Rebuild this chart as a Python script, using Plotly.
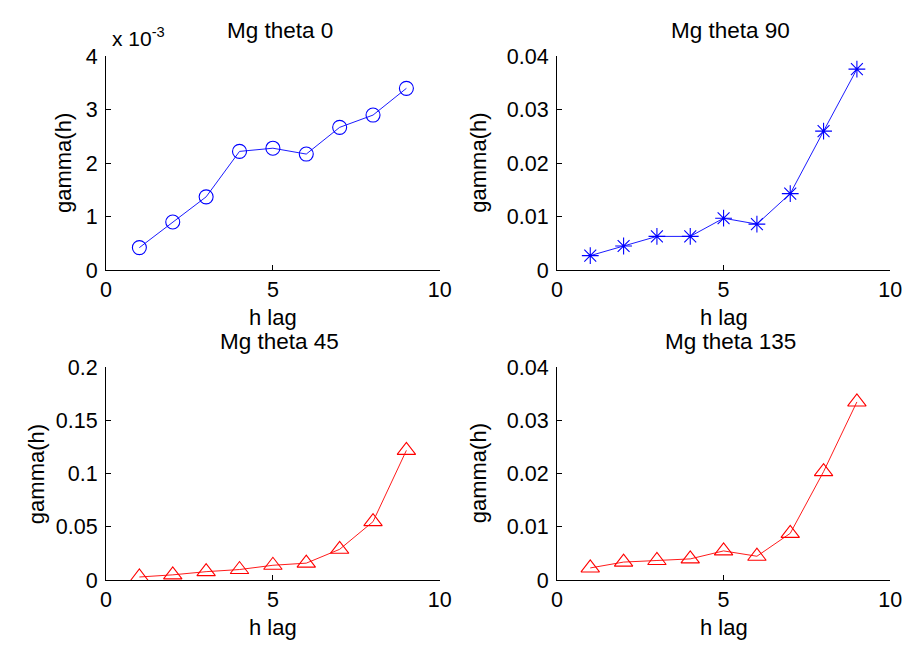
import plotly.graph_objects as go

h_lag = [1, 2, 3, 4, 5, 6, 7, 8, 9]
gamma_theta0 = [0.00042, 0.00090, 0.00137, 0.00222, 0.00228, 0.00217, 0.00267, 0.00290, 0.00340]
gamma_theta90 = [0.0027, 0.0045, 0.0063, 0.0063, 0.0097, 0.0086, 0.0143, 0.0260, 0.0376]
gamma_theta45 = [0.003, 0.005, 0.008, 0.010, 0.014, 0.016, 0.029, 0.055, 0.122]
gamma_theta135 = [0.0023, 0.0034, 0.0037, 0.0040, 0.0055, 0.0045, 0.0088, 0.0204, 0.0335]

titles = ["Mg theta 0", "Mg theta 90", "Mg theta 45", "Mg theta 135"]
x_ticks = [0, 5, 10]
y_ticks_0 = [0, 0.001, 0.002, 0.003, 0.004]
y_ticklabels_0 = ["0", "1", "2", "3", "4"]
y_ticks_90 = [0, 0.01, 0.02, 0.03, 0.04]
y_ticklabels_90 = ["0", "0.01", "0.02", "0.03", "0.04"]
y_ticks_45 = [0, 0.05, 0.1, 0.15, 0.2]
y_ticklabels_45 = ["0", "0.05", "0.1", "0.15", "0.2"]
y_ticks_135 = [0, 0.01, 0.02, 0.03, 0.04]
y_ticklabels_135 = ["0", "0.01", "0.02", "0.03", "0.04"]

W, H = 914, 650
FONT = "Liberation Sans, Arial, sans-serif"


def px(x):
    return x / W


def py(y):
    return 1 - y / H


# pixel boxes (left, right, top, bottom) and y-label x position
boxes = [(102, 442.5, 47, 269), (562, 902, 47, 269), (102, 442.5, 370, 591), (562, 902, 370, 591)]
ylabel_x = [58, 482, 31, 482]

fig = go.Figure()

series = [
    (gamma_theta0, "blue", "circle-open", 14, y_ticks_0, y_ticklabels_0),
    (gamma_theta90, "blue", "asterisk-open", 14, y_ticks_90, y_ticklabels_90),
    (gamma_theta45, "red", "triangle-up-open", 16, y_ticks_45, y_ticklabels_45),
    (gamma_theta135, "red", "triangle-up-open", 16, y_ticks_135, y_ticklabels_135),
]

annotations = []
for i, ((yv, col, sym, ms, yt, ytl), (l, r, t, b)) in enumerate(zip(series, boxes)):
    n = "" if i == 0 else str(i + 1)
    fig.add_trace(go.Scatter(
        x=h_lag, y=yv, mode="lines+markers",
        line=dict(color=col, width=0.9),
        marker=dict(symbol=sym, size=ms, color=col, line=dict(color=col, width=1.1)),
        xaxis="x" + n, yaxis="y" + n, showlegend=False,
    ))
    axis_common = dict(showline=True, linecolor="black", linewidth=1, ticks="inside",
                       ticklen=5, tickcolor="black", showgrid=False, zeroline=False,
                       tickfont=dict(family=FONT, size=21.5, color="black"))
    fig.update_layout(**{
        "xaxis" + n: dict(domain=[px(l), px(r)], range=[0, 10], tickvals=x_ticks,
                          anchor="y" + n, ticklabelstandoff=0, **axis_common),
        "yaxis" + n: dict(domain=[py(b), py(t)], range=[yt[0], yt[-1]],
                          tickvals=yt, ticktext=ytl, anchor="x" + n, ticklabelstandoff=3,
                          **axis_common),
    })
    cx = (l + r) / 2
    annotations.append(dict(text=titles[i], x=px(cx + 7), y=py(t - 27), xref="paper", yref="paper",
                            xanchor="center", yanchor="middle", showarrow=False,
                            font=dict(family=FONT, size=22.5, color="black")))
    annotations.append(dict(text="h lag", x=px(cx), y=py(b + 49), xref="paper", yref="paper",
                            xanchor="center", yanchor="middle", showarrow=False,
                            font=dict(family=FONT, size=22, color="black")))
    annotations.append(dict(text="gamma(h)", x=px(ylabel_x[i]), y=py((t + b) / 2), xref="paper",
                            yref="paper", xanchor="center", yanchor="middle", showarrow=False,
                            textangle=-90, font=dict(family=FONT, size=22, color="black")))

annotations.append(dict(text="x 10<sup>-3</sup>", x=px(106), y=py(27), xref="paper", yref="paper",
                        xanchor="left", yanchor="middle", showarrow=False,
                        font=dict(family=FONT, size=21, color="black")))

fig.update_layout(width=W, height=H, margin=dict(l=0, r=0, t=0, b=0),
                  paper_bgcolor="white", plot_bgcolor="white", annotations=annotations)

fig.write_html("out.html")
